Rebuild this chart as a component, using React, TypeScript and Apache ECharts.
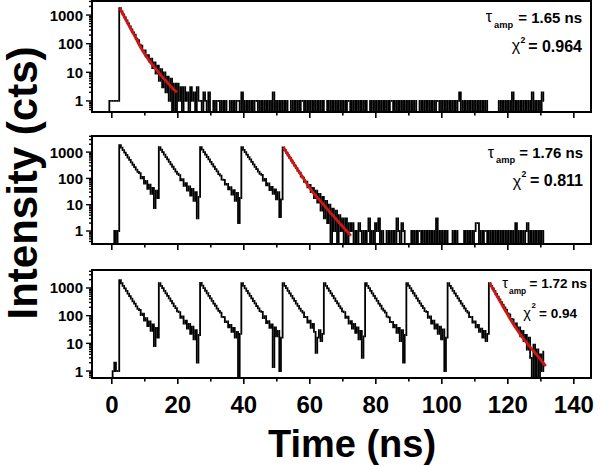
import React, { useEffect, useRef } from "react";
import * as echarts from "echarts";

// ---------- data ----------
const T0 = -1; // time of first channel (ns)
const STEP = 0.5; // channel width (ns)
const ZERO_DISPLAY = 0.2; // zero counts drawn just below the log floor

// Panel 1: single pulse, then background
const panel1Counts = [
  0, 1, 1, 1, 1, 1, 1,
  1750, 1350, 1050, 830, 650, 510, 400, 315, 250, 205,
  150, 132, 92, 86, 58, 58, 36, 40, 24, 30,
  14, 22, 9, 17, 5, 13, 3, 10, 2, 7,
  1, 6, 0, 4, 0, 4, 1, 3, 0, 3,
  1, 2, 0, 3, 1, 2, 0, 3, 1, 1,
  0, 2, 1, 0, 2, 0,
  0, 1, 0, 1, 1, 0, 1, 0, 1, 0, 0, 1, 0, 1, 0, 1, 1, 0, 2, 0,
  1, 0, 1, 0, 1, 0, 1, 1, 0, 1, 0, 1, 0, 1, 0, 1, 0, 2, 0, 1,
  0, 1, 0, 1, 0, 1, 0, 0, 1, 0, 1, 0, 1, 0, 1, 1, 0, 1, 0, 1,
  0, 1, 0, 1, 0, 1, 0, 1, 0, 0, 1, 0, 1, 0, 1, 0, 1, 0, 1, 0,
  1, 0, 1, 1, 0, 1, 0, 1, 0, 1, 0, 1, 0, 1, 0, 0, 1, 0, 1, 0,
  1, 0, 1, 0, 1, 0, 1, 0, 1, 1, 0, 1, 0, 1, 0, 1, 0, 1, 0, 1,
  0, 1, 0, 1, 0, 0, 1, 0, 1, 0, 1, 0, 1, 0, 1, 0, 1, 1, 0, 1,
  0, 1, 0, 1, 0, 1, 0, 1, 0, 1, 2, 0, 1, 0, 1, 0, 1, 0, 1, 0,
  1, 0, 1, 0, 1, 0, 1, 0, 0, 0, 0, 0, 0, 0, 1, 0, 1, 0, 1, 0,
  1, 0, 2, 0, 1, 0, 1, 0, 1, 0, 1, 0, 1, 0, 2, 0, 1, 0, 1, 0,
  2, 1,
];

// Panel 2: five pulses, last one fitted, then background
const panel2Counts = [
  0, 0, 0, 0, 1, 0, 1,
  1860, 1470, 1190, 955, 775, 625, 505, 410, 330, 268, 216, 178, 158, 100, 114, 64, 80, 40, 58, 26, 44, 7.5, 34, 18,
  1550, 1230, 1000, 805, 650, 528, 426, 344, 278, 226, 182, 150, 134, 84, 94, 52, 66, 34, 50, 22, 40, 14, 30, 3, 20,
  1550, 1235, 1005, 808, 652, 530, 428, 346, 280, 224, 186, 146, 128, 90, 88, 58, 62, 38, 46, 24, 36, 14, 28, 2, 18,
  1540, 1225, 998, 800, 648, 526, 424, 342, 276, 226, 180, 150, 136, 82, 96, 54, 64, 36, 48, 26, 38, 16, 30, 3.4, 16,
  1520, 1200, 960, 760, 610, 480, 385, 305, 245, 195,
  164, 118, 108, 74, 76, 46, 56, 30, 44, 18,
  34, 12, 26, 6, 20, 3, 14, 2, 10, 0,
  7, 1, 6, 0, 4, 1, 3, 0, 3, 0,
  2,
  1, 2, 0, 1, 0, 2, 1, 0, 1, 0,
  1, 3, 0, 1, 0, 2, 1, 3, 0, 1,
  0, 0, 1, 0, 1, 0, 1, 0, 3, 1,
  0, 2, 1, 0, 0, 0, 0, 1, 0, 1,
  0, 1, 1, 0, 1, 0, 1, 0, 1, 0,
  1, 0, 3, 0, 1, 0, 1, 0, 1, 0,
  0, 0, 1, 0, 1, 0, 0, 0, 0, 1,
  0, 1, 0, 1, 0, 1, 2, 2, 0, 1,
  0, 1, 1, 0, 1, 0, 1, 0, 1, 0,
  1, 0, 1, 0, 1, 0, 1, 0, 1, 0,
  2, 0, 1, 0, 1, 0, 1, 2, 0, 1,
  0, 1, 0, 1, 0, 1, 0, 1,
];

// Panel 3: ten pulses, last one fitted
const panel3Counts = [
  0, 0, 0, 1, 2, 1, 1,
  1900, 1480, 1200, 960, 780, 630, 510, 410, 330, 270, 218, 176, 160, 104, 118, 66, 82, 42, 62, 28, 48, 8, 36, 16,
  1500, 1200, 980, 790, 640, 520, 420, 340, 276, 222, 186, 144, 134, 84, 94, 52, 66, 34, 50, 22, 40, 14, 30, 2, 20,
  1520, 1210, 985, 795, 645, 522, 424, 342, 274, 228, 180, 150, 128, 90, 88, 58, 62, 38, 46, 26, 36, 16, 26, 0, 22,
  1500, 1195, 975, 788, 638, 518, 418, 338, 278, 222, 184, 146, 136, 82, 96, 54, 64, 36, 48, 1.4, 38, 18, 28, 1, 16,
  1500, 1200, 980, 790, 642, 520, 422, 340, 274, 226, 180, 150, 130, 88, 90, 56, 66, 36, 50, 26, 4.5, 16, 30, 12, 22,
  1490, 1190, 975, 785, 636, 516, 418, 336, 276, 222, 184, 144, 134, 84, 92, 52, 64, 34, 50, 24, 38, 14, 28, 3, 18,
  1500, 1200, 982, 792, 640, 522, 420, 342, 272, 228, 178, 152, 128, 92, 86, 58, 60, 38, 46, 24, 36, 12, 30, 2, 20,
  1500, 1205, 985, 795, 645, 524, 424, 344, 278, 224, 186, 146, 136, 84, 94, 52, 66, 34, 48, 22, 40, 14, 32, 1, 16,
  1500, 1200, 978, 790, 640, 520, 420, 340, 275, 226, 182, 150, 130, 88, 90, 56, 62, 38, 46, 26, 34, 16, 28, 12, 22,
  1500, 1200, 960, 770, 610, 490, 390, 310, 250, 200,
  166, 120, 110, 76, 74, 50, 52, 30, 38, 18,
  28, 12, 20, 6, 16, 3, 0, 9, 0, 6,
  0, 4, 1, 5,
];

// Fits (red)
const fit1Times = [2.5, 3, 4, 5, 6, 7, 8, 9, 10, 11, 12, 13, 14, 15, 16, 17, 18, 19, 19.7];
const fit1Values = [1750, 1300, 790, 470, 290, 180, 108, 66, 43, 29, 20, 14.5, 10.5, 7.6, 5.6, 4.2, 3.1, 2.4, 2];
const fit2Times = [52, 53, 54, 55, 56, 57, 58, 59, 60, 61, 62, 63, 64, 65, 66, 67, 68, 69, 70, 71, 72, 72.4];
const fit2Values = [1500, 950, 610, 390, 250, 160, 103, 66, 43, 29, 20.5, 14.7, 10.6, 7.6, 5.4, 3.9, 2.8, 2.0, 1.45, 1.04, 0.75, 0.65];
const fit3Times = [114.5, 115.5, 116.5, 117.5, 118.5, 119.5, 120.5, 121.5, 122.5, 123.5, 124.5, 125.5, 126.5, 127.5, 128.5, 129.5, 130.5, 131.5];
const fit3Values = [1500, 920, 570, 350, 215, 135, 84, 53, 35, 23.5, 16, 11.2, 8, 5.8, 4.2, 3, 2.1, 1.5];

// Ticks / labels
const xLabelValues = [0, 20, 40, 60, 80, 100, 120, 140];
const xMinorValues = [10, 30, 50, 70, 90, 110, 130];
const yMajorValues = [1, 10, 100, 1000];
const yMinorValues = [0.4, 0.5, 0.6, 0.7, 0.8, 0.9, 2, 3, 4, 5, 6, 7, 8, 9, 20, 30, 40, 50, 60, 70, 80, 90, 200, 300, 400, 500, 600, 700, 800, 900, 2000, 3000, 4000];

// Annotations
const tauTexts = ["= 1.65 ns", "= 1.76 ns", "= 1.72 ns"];
const chiTexts = ["= 0.964", "= 0.811", "= 0.94"];

// ---------- layout ----------
const FONT = '"Liberation Sans", Arial, Helvetica, sans-serif';
const X_MIN = -6;
const X_MAX = 145.2;
const PANELS = [
  { top: 1, height: 111, yMin: 0.41, yMax: 3100 },
  { top: 136, height: 108, yMin: 0.32, yMax: 4100 },
  { top: 270, height: 108, yMin: 0.56, yMax: 4460 },
];
const ANNO = [
  { size: 15, chiSize: 16, tau: [489, 16], amp: [494, 25], eq: [582, 17.5], chi: [516, 45], sup: [520.5, 39.5], chiEq: [582, 46] },
  { size: 15, chiSize: 16, tau: [491, 152], amp: [496, 160], eq: [583, 152], chi: [517, 181], sup: [521.5, 174], chiEq: [583, 180] },
  { size: 13.5, chiSize: 13.5, tau: [505, 283], amp: [509, 290.5], eq: [587, 283], chi: [527, 312.5], sup: [531.5, 305.5], chiEq: [577, 313] },
];

const panelCounts = [panel1Counts, panel2Counts, panel3Counts];
const fits = [
  [fit1Times, fit1Values],
  [fit2Times, fit2Values],
  [fit3Times, fit3Values],
];

function decadeLabel(v: number): string {
  const l = Math.log10(v);
  const r = Math.round(l);
  return Math.abs(l - r) < 1e-6 && r >= 0 ? String(Math.round(Math.pow(10, r))) : "";
}

const disp = (v: number) => (v > 0 ? v : ZERO_DISPLAY);

function buildOption() {
  const series: any[] = [];
  PANELS.forEach((p, i) => {
    const counts = panelCounts[i];
    // histogram trace: each channel -> step to the next channel
    const histData = counts.slice(0, -1).map((v, k) => [T0 + k * STEP, disp(v), disp(counts[k + 1])]);
    series.push({
      type: "custom",
      xAxisIndex: i,
      yAxisIndex: i,
      data: histData,
      clip: true,
      silent: true,
      z: 2,
      renderItem: (params: any, api: any) => {
        const t = api.value(0);
        const a = api.coord([t, api.value(1)]);
        const b = api.coord([t + STEP, api.value(2)]);
        const mx = (a[0] + b[0]) / 2;
        return {
          type: "polyline",
          shape: { points: [[a[0], a[1]], [mx, a[1]], [mx, b[1]], [b[0], b[1]]] },
          style: { stroke: "#000", lineWidth: 1.8, fill: "none", lineJoin: "miter" },
        };
      },
    });
    const [ft, fv] = fits[i];
    series.push({
      type: "line",
      xAxisIndex: i,
      yAxisIndex: i,
      data: ft.map((t, k) => [t, fv[k]]),
      showSymbol: false,
      symbol: "none",
      smooth: 0.3,
      clip: true,
      silent: true,
      lineStyle: { color: "#d01515", width: 2.8 },
      z: 3,
    });
    const xt = [
      ...xLabelValues.map((v) => [v, 1, 6]),
      ...xMinorValues.map((v) => [v, 1, 3.5]),
    ];
    series.push({
      type: "custom",
      xAxisIndex: i,
      yAxisIndex: i,
      silent: true,
      clip: false,
      z: 5,
      data: xt,
      renderItem: (params: any, api: any) => {
        const cs = params.coordSys;
        const px = api.coord([api.value(0), 1])[0];
        const yb = cs.y + cs.height;
        return {
          type: "line",
          shape: { x1: px, y1: yb, x2: px, y2: yb + api.value(2) },
          style: { stroke: "#000", lineWidth: 1.6 },
        };
      },
    });
    const yt = [
      ...yMajorValues.map((v) => [0, v, 6]),
      ...yMinorValues.filter((v) => v > p.yMin && v < p.yMax).map((v) => [0, v, 3]),
    ];
    series.push({
      type: "custom",
      xAxisIndex: i,
      yAxisIndex: i,
      silent: true,
      clip: false,
      z: 5,
      data: yt,
      renderItem: (params: any, api: any) => {
        const cs = params.coordSys;
        const py = api.coord([0, api.value(1)])[1];
        return {
          type: "line",
          shape: { x1: cs.x - api.value(2), y1: py, x2: cs.x, y2: py },
          style: { stroke: "#000", lineWidth: 1.4 },
        };
      },
    });
  });

  const graphic: any[] = [];
  const txt = (x: number, y: number, text: string, size: number, weight: string, align: string, rotation = 0) => ({
    type: "text",
    x,
    y,
    rotation,
    silent: true,
    z: 10,
    style: {
      text,
      fontSize: size,
      fontWeight: weight,
      fontFamily: FONT,
      fill: "#000",
      align,
      textAlign: align,
      verticalAlign: "middle",
      textVerticalAlign: "middle",
    },
  });
  ANNO.forEach((a, i) => {
    graphic.push(txt(a.tau[0], a.tau[1], "τ", a.size + 1, "normal", "center"));
    graphic.push(txt(a.amp[0], a.amp[1], "amp", a.size * 0.62, "bold", "left"));
    graphic.push(txt(a.eq[0], a.eq[1], tauTexts[i], a.size, "bold", "right"));
    graphic.push(txt(a.chi[0], a.chi[1], "χ", a.size + 1, "normal", "center"));
    graphic.push(txt(a.sup[0], a.sup[1], "2", a.size * 0.58, "bold", "left"));
    graphic.push(txt(a.chiEq[0], a.chiEq[1], chiTexts[i], a.chiSize, "bold", "right"));
  });
  graphic.push(txt(22, 183, "Intensity (cts)", 42, "bold", "center", Math.PI / 2));
  graphic.push(txt(352, 444, "Time (ns)", 38, "bold", "center"));

  return {
    animation: false,
    backgroundColor: "#fff",
    grid: PANELS.map((p) => ({
      left: 92,
      right: 9,
      top: p.top,
      height: p.height,
      show: true,
      borderColor: "#000",
      borderWidth: 2,
      backgroundColor: "transparent",
    })),
    xAxis: PANELS.map((p, i) => ({
      type: "value",
      gridIndex: i,
      min: X_MIN,
      max: X_MAX,
      axisLine: { show: true, onZero: false, lineStyle: { color: "#000", width: 2 } },
      axisTick: { show: false },
      splitLine: { show: false },
      axisLabel: {
        show: i === 2,
        customValues: xLabelValues,
        fontSize: 24,
        fontWeight: "bold",
        fontFamily: FONT,
        color: "#000",
        margin: 14,
      },
    })),
    yAxis: PANELS.map((p, i) => ({
      type: "log",
      logBase: 10,
      gridIndex: i,
      min: p.yMin,
      max: p.yMax,
      axisLine: { show: true, onZero: false, lineStyle: { color: "#000", width: 2 } },
      axisTick: { show: false },
      splitLine: { show: false },
      axisLabel: {
        formatter: (v: number) => decadeLabel(v),
        fontSize: 15,
        fontWeight: "bold",
        fontFamily: FONT,
        color: "#000",
        margin: 9,
      },
    })),
    series,
    graphic,
  };
}

export default function App() {
  const ref = useRef<HTMLDivElement>(null);
  useEffect(() => {
    document.body.style.margin = "0";
    if (!ref.current) return;
    const chart = echarts.init(ref.current, null, { renderer: "svg" });
    chart.setOption(buildOption() as any);
    return () => chart.dispose();
  }, []);
  return <div ref={ref} style={{ width: 600, height: 467 }} />;
}
